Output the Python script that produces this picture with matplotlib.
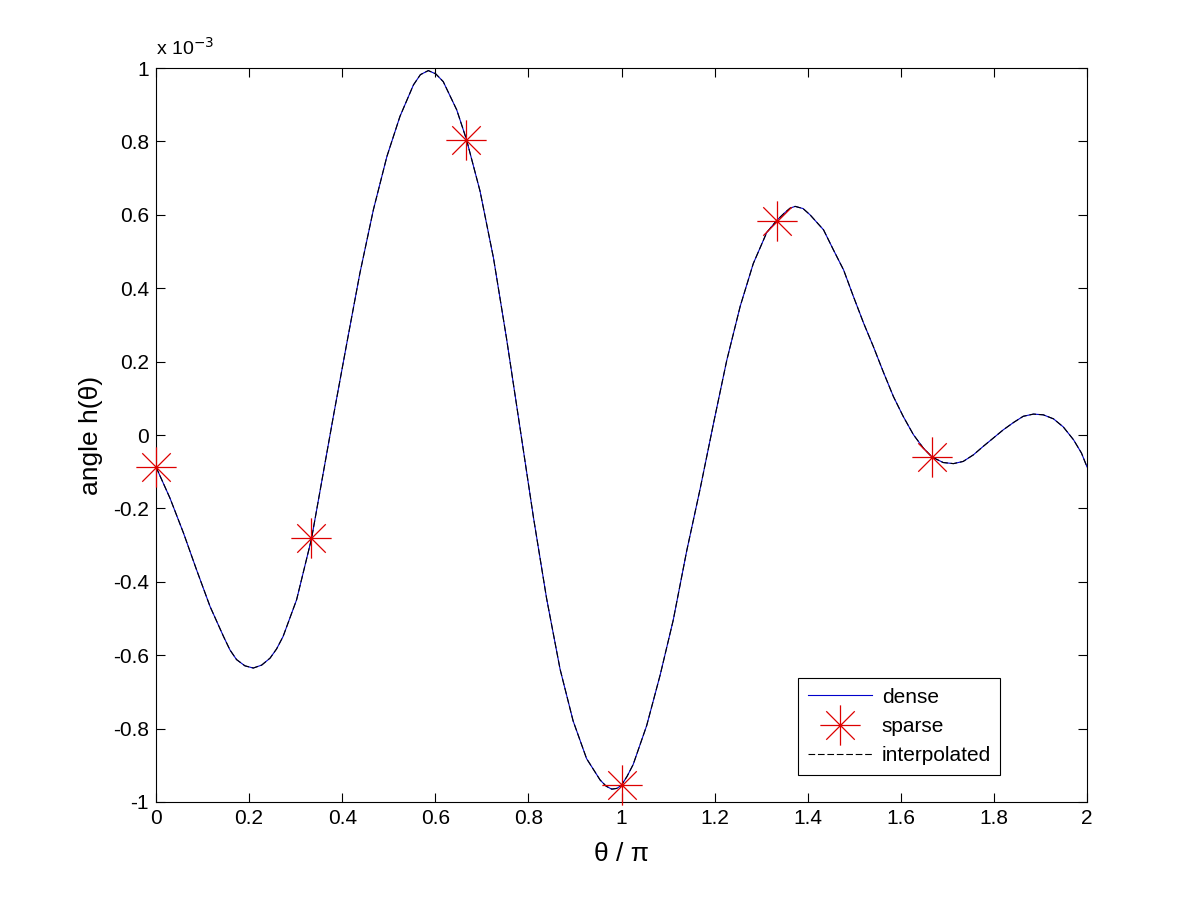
import numpy as np
import matplotlib
matplotlib.use("Agg")
import matplotlib.pyplot as plt
from matplotlib.path import Path
from matplotlib.ticker import FuncFormatter

plt.rcParams['font.family'] = ['Liberation Sans', 'DejaVu Sans']
plt.rcParams['axes.unicode_minus'] = False

# dense curve (theta/pi, value in units of 1e-3)
dense_x = [0.000, 0.030, 0.059, 0.087, 0.116, 0.145, 0.159, 0.173, 0.191, 0.209,
           0.227, 0.245, 0.259, 0.273, 0.302, 0.334, 0.352, 0.381, 0.410, 0.438,
           0.467, 0.496, 0.524, 0.553, 0.568, 0.585, 0.601, 0.617, 0.646, 0.667,
           0.696, 0.725, 0.753, 0.782, 0.811, 0.839, 0.868, 0.896, 0.925, 0.954,
           0.967, 0.979, 0.990, 1.000, 1.012, 1.025, 1.054, 1.083, 1.111, 1.140,
           1.169, 1.198, 1.226, 1.255, 1.283, 1.312, 1.333, 1.350, 1.362, 1.373,
           1.390, 1.405, 1.434, 1.455, 1.477, 1.498, 1.520, 1.541, 1.562, 1.584,
           1.605, 1.627, 1.648, 1.667, 1.691, 1.713, 1.734, 1.756, 1.777, 1.799,
           1.820, 1.842, 1.863, 1.885, 1.906, 1.928, 1.949, 1.971, 1.988, 2.000]
dense_y = [-0.087, -0.172, -0.267, -0.367, -0.467, -0.549, -0.586, -0.612, -0.629, -0.635,
           -0.627, -0.608, -0.583, -0.549, -0.449, -0.283, -0.155, 0.051, 0.251, 0.441,
           0.614, 0.759, 0.868, 0.954, 0.982, 0.993, 0.984, 0.963, 0.886, 0.805,
           0.665, 0.482, 0.263, 0.019, -0.226, -0.445, -0.638, -0.779, -0.882, -0.940,
           -0.957, -0.965, -0.963, -0.954, -0.930, -0.898, -0.792, -0.654, -0.505, -0.316,
           -0.146, 0.034, 0.203, 0.351, 0.467, 0.552, 0.584, 0.605, 0.618, 0.623,
           0.617, 0.600, 0.559, 0.505, 0.450, 0.378, 0.305, 0.241, 0.173, 0.105,
           0.051, 0.001, -0.035, -0.060, -0.075, -0.078, -0.072, -0.054, -0.031, -0.008,
           0.014, 0.034, 0.051, 0.057, 0.055, 0.044, 0.022, -0.013, -0.049, -0.087]

# sparse samples
sparse_x = [0.0, 1 / 3, 2 / 3, 1.0, 4 / 3, 5 / 3]
sparse_y = [-0.088, -0.282, 0.805, -0.954, 0.584, -0.059]

# interpolated curve lies on top of the dense one
interp_x = dense_x
interp_y = dense_y

scale = 1e-3

# MATLAB style '*' marker: plus and cross together
d = 0.7071
star = Path([(-1, 0), (1, 0), (0, -1), (0, 1), (-d, -d), (d, d), (-d, d), (d, -d)],
            [Path.MOVETO, Path.LINETO] * 4)

fig = plt.figure(figsize=(12.01, 9.01), dpi=100)
ax = fig.add_axes([0.1299, 0.1099, 0.7752, 0.8146])

ax.plot(dense_x, np.array(dense_y) * scale, color='#0000cc', lw=0.8, label='dense',
        solid_joinstyle='round')
ax.plot(sparse_x, np.array(sparse_y) * scale, ls='none', marker=star, ms=29,
        mec='#dd0000', mew=0.9, fillstyle='none', label='sparse', clip_on=False,
        zorder=3)
ax.plot(interp_x, np.array(interp_y) * scale, color='k', lw=0.8, ls=(0, (6, 2.5)),
        label='interpolated')

ax.set_xlim(0, 2)
ax.set_ylim(-1e-3, 1e-3)
ax.set_xticks(np.arange(0, 2.01, 0.2))
ax.set_yticks(np.arange(-1e-3, 1.01e-3, 0.2e-3))
ax.xaxis.set_major_formatter(FuncFormatter(lambda v, p: '%g' % round(v, 6)))
ax.yaxis.set_major_formatter(FuncFormatter(lambda v, p: '%g' % round(v / scale, 6)))
ax.tick_params(direction='in', length=6.5, width=0.8, top=True, right=True,
               labelsize=15, pad=5)
for s in ax.spines.values():
    s.set_linewidth(0.8)

ax.text(0.0, 1.012, r'x 10$^{-3}$', transform=ax.transAxes, fontsize=14,
        ha='left', va='bottom')

ax.set_xlabel('θ / π', fontsize=19, labelpad=10)
ax.set_ylabel('angle h(θ)', fontsize=19, labelpad=7)

leg = ax.legend(loc='lower left', bbox_to_anchor=(0.690, 0.037), borderaxespad=0,
                fontsize=15, fancybox=False, framealpha=1, edgecolor='k',
                handlelength=3.1, handletextpad=0.45, labelspacing=0.5,
                borderpad=0.45)
leg.get_frame().set_linewidth(0.8)

fig.savefig('out.png', dpi=100, facecolor='white')
